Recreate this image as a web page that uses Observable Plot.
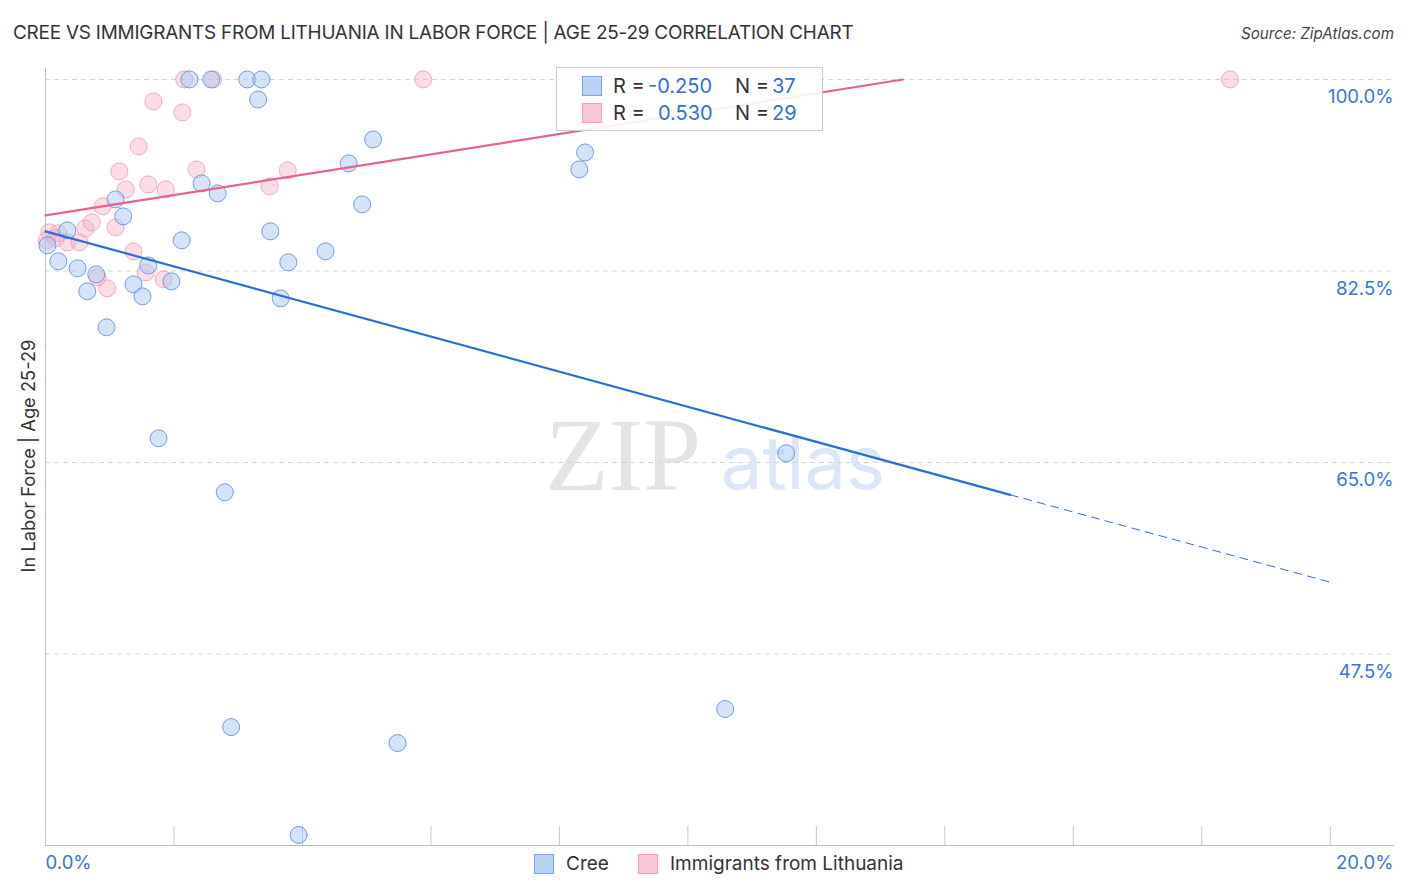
<!DOCTYPE html>
<html>
<head>
<meta charset="utf-8">
<script src="https://cdn.jsdelivr.net/npm/d3@7"></script>
<script src="https://cdn.jsdelivr.net/npm/@observablehq/plot@0.6"></script>
<style>
  html, body { margin: 0; padding: 0; background: #fff; }
  body { width: 1406px; height: 892px; position: relative; overflow: hidden; font-family: Inter, Roboto, "Open Sans", sans-serif; }
  #chart { position: absolute; left: 0; top: 0; }
  .title { position: absolute; left: 13px; top: 21px; font-size: 18.9px; color: #333; letter-spacing: -0.2px; white-space: nowrap; }
  .source { position: absolute; right: 12px; top: 24px; font-size: 15.2px; color: #444; font-style: italic; }
  .ytitle { position: absolute; left: 28px; top: 456px; transform: translate(-50%, -50%) rotate(-90deg); font-size: 18.3px; color: #333; white-space: nowrap; }
  .legbox { position: absolute; left: 556px; top: 67px; width: 265px; height: 62px; border: 1px solid #ccc; background: rgba(255,255,255,0.9); font-size: 20px; color: #333; }
  .legrow { position: absolute; left: 0; height: 26px; line-height: 26px; white-space: nowrap; }
  .sw { position: absolute; width: 20px; height: 20px; box-sizing: border-box; }
  .blue { color: #2f6fd6; }
  .bleg { position: absolute; top: 852px; font-size: 19px; color: #333; height: 24px; line-height: 24px; white-space: nowrap; }
</style>
</head>
<body>
<div id="chart"></div>
<div class="title">CREE VS IMMIGRANTS FROM LITHUANIA IN LABOR FORCE | AGE 25-29 CORRELATION CHART</div>
<div class="source">Source: ZipAtlas.com</div>
<div class="ytitle">In Labor Force | Age 25-29</div>
<div class="legbox">
  <div class="legrow" style="top:5px;">
    <div class="sw" style="left:25px;top:3px;background:#b9d3f5;border:1px solid #7aa5e6;"></div>
    <span style="position:absolute;left:56px;">R =</span>
    <span class="blue" style="position:absolute;left:91px;">-0.250</span>
    <span style="position:absolute;left:178px;">N =</span>
    <span class="blue" style="position:absolute;left:215px;">37</span>
  </div>
  <div class="legrow" style="top:32px;">
    <div class="sw" style="left:25px;top:3px;background:#f9c8d6;border:1px solid #f0a0b8;"></div>
    <span style="position:absolute;left:56px;">R =</span>
    <span class="blue" style="position:absolute;left:101px;">0.530</span>
    <span style="position:absolute;left:178px;">N =</span>
    <span class="blue" style="position:absolute;left:215px;">29</span>
  </div>
</div>
<div class="bleg" style="left:534px;">
  <div class="sw" style="left:0;top:2px;background:#b9d3f5;border:1px solid #7aa5e6;"></div>
  <span style="position:absolute;left:32px;">Cree</span>
</div>
<div class="bleg" style="left:638px;">
  <div class="sw" style="left:0;top:2px;background:#f9c8d6;border:1px solid #f0a0b8;"></div>
  <span style="position:absolute;left:32px;">Immigrants from Lithuania</span>
</div>
<script>
// ---- data (percent) ----
const creeX = [2.24, 2.58, 3.14, 3.36, 3.31, 5.10, 8.40, 8.31, 4.72, 2.43, 2.68, 1.09, 4.93, 1.21, 3.50, 2.12, 4.36, 3.78, 0.20, 0.50, 0.79, 1.60, 1.37, 1.96, 0.65, 1.51, 3.66, 0.95, 1.76, 11.53, 2.79, 10.58, 2.89, 5.48, 3.94, 0.34, 0.03];
const creeY = [100, 100, 100, 100, 98.17, 94.52, 93.33, 91.78, 92.33, 90.50, 89.59, 89.04, 88.58, 87.49, 86.12, 85.30, 84.29, 83.29, 83.38, 82.74, 82.19, 83.01, 81.28, 81.55, 80.64, 80.18, 80.00, 77.35, 67.21, 65.84, 62.28, 42.47, 40.82, 39.36, 30.96, 86.21, 84.84];

const lithX = [0.06, 0.20, 0.34, 0.53, 0.62, 0.72, 0.89, 1.09, 1.15, 1.25, 1.37, 1.45, 1.60, 1.68, 1.87, 1.84, 1.56, 0.96, 0.81, 2.13, 2.35, 3.49, 3.77, 2.16, 2.61, 5.88, 18.44, 0.02, 0.16];
const lithY = [86.03, 85.94, 85.11, 85.11, 86.39, 86.94, 88.40, 86.48, 91.60, 89.95, 84.29, 93.88, 90.41, 97.99, 89.95, 81.74, 82.37, 80.91, 81.92, 96.99, 91.78, 90.23, 91.69, 100, 100, 100, 100, 85.30, 85.48];

// trend lines: [intercept, slope], solid end, dashed end
const creeTrend = [86.12, -1.603];
const creeSolidEnd = 15.02;
const creeDashEnd = 20;
const lithTrend = [87.58, 0.930];
const lithSolidEnd = 13.35;

const yTicks = [47.5, 65, 82.5, 100];
const xTicks = [0, 2, 4, 6, 8, 10, 12, 14, 16, 18, 20];
const xDomain = [0, 21];
const yDomain = [30, 101];

const cree = creeX.map((x, i) => ({x, y: creeY[i]}));
const lith = lithX.map((x, i) => ({x, y: lithY[i]}));
const lineOf = (t, a, b) => [a, b].map(x => ({x, y: t[0] + t[1] * x}));

const blueFill = "#a9c7f0", blueStroke = "#5b8fe0", blueLine = "#2a6fd8";
const pinkFill = "#f6b3c7", pinkStroke = "#ee98b3", pinkLine = "#e8628f";

const chart = Plot.plot({
  width: 1406,
  height: 892,
  marginLeft: 45,
  marginRight: 12,
  marginTop: 68,
  marginBottom: 47,
  x: {domain: xDomain, axis: null},
  y: {domain: yDomain, axis: null},
  style: {background: "transparent", fontFamily: "Inter, Roboto, sans-serif"},
  marks: [
    Plot.text(["ZIP"], {text: d => d, frameAnchor: "middle", dx: -97, dy: 0, fontFamily: "Liberation Serif, DejaVu Serif, serif", fontSize: 104, fill: "#e4e4e4"}),
    Plot.text(["atlas"], {text: d => d, frameAnchor: "middle", dx: 83, dy: 8, fontFamily: "Inter, Roboto, sans-serif", fontSize: 74, fill: "#dbe6f6"}),
    Plot.gridY(yTicks, {stroke: "#d4d4d4", strokeOpacity: 1, strokeDasharray: "5,4"}),
    Plot.ruleX([0], {stroke: "#bdbdbd"}),
    Plot.ruleY([30], {stroke: "#bdbdbd"}),
    Plot.ruleX(xTicks, {y1: 30, y2: 31.75, stroke: "#c8c8c8"}),
    Plot.text(yTicks, {x: () => xDomain[1], y: d => d, text: d => d.toFixed(1) + "%", textAnchor: "end", dx: -1, dy: 18, fill: "#3b73d6", fontSize: 18.6}),
    Plot.text(["0.0%"], {text: d => d, frameAnchor: "bottom-left", textAnchor: "start", dy: 23, fill: "#3b73d6", fontSize: 18.6}),
    Plot.text(["20.0%"], {text: d => d, frameAnchor: "bottom-right", textAnchor: "end", dx: -1, dy: 23, fill: "#3b73d6", fontSize: 18.6}),
    Plot.dot(lith, {x: "x", y: "y", r: 8.5, fill: pinkFill, fillOpacity: 0.45, stroke: pinkStroke, strokeOpacity: 0.8, strokeWidth: 1}),
    Plot.dot(cree, {x: "x", y: "y", r: 8.5, fill: blueFill, fillOpacity: 0.5, stroke: blueStroke, strokeOpacity: 0.85, strokeWidth: 1}),
    Plot.line(lineOf(creeTrend, 0, creeSolidEnd), {x: "x", y: "y", stroke: blueLine, strokeWidth: 2.2}),
    Plot.line(lineOf(creeTrend, creeSolidEnd, creeDashEnd), {x: "x", y: "y", stroke: blueLine, strokeWidth: 1, strokeDasharray: "8,6"}),
    Plot.line(lineOf(lithTrend, 0, lithSolidEnd), {x: "x", y: "y", stroke: pinkLine, strokeWidth: 2.2})
  ]
});
document.getElementById("chart").appendChild(chart);
</script>
</body>
</html>
